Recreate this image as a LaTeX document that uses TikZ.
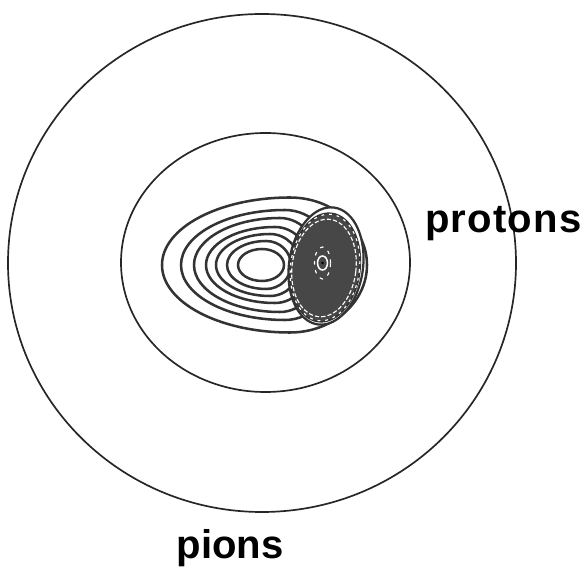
\documentclass[tikz,border=0pt]{standalone}
\usepackage{fontspec}
\newfontfamily\labelfont{Liberation Sans}
\usepackage{tikz}
\usetikzlibrary{positioning}

\begin{document}
\begin{tikzpicture}[
  x=0.05cm, y=0.05cm,
  shell/.style={draw=black!85, line width=2.4pt},
  contour/.style={draw=black!80, line width=3.6pt},
  pedge/.style={draw=black!80, line width=3.2pt, fill=white},
  pcore/.style={fill=black!72, draw=black!80, line width=2.4pt},
  wdash/.style={draw=white, line width=1.6pt, dash pattern=on 6pt off 3pt},
  tag/.style={font=\labelfont\bfseries\fontsize{57}{60}\selectfont, inner sep=0pt}
]
\useasboundingbox (0,0) rectangle (588,573);

% Outer shells
\draw[shell] (262,310) ellipse [x radius=254, y radius=249];
\draw[shell] (265.5,310.5) ellipse [x radius=144.5, y radius=129.5];

% Pion contours (left half, then right half)
\foreach \cx/\rl/\rr/\ry in {262/24/22/16, 266/39/25/24, 270/54/30/31, 275/69/35/38,
                             280/86/40/47, 285/104/50/55, 290/128/77/67.5}
  \draw[contour] (\cx,308+\ry)
    arc [start angle=90, end angle=270, x radius=\rl, y radius=\ry]
    arc [start angle=270, end angle=450, x radius=\rr, y radius=\ry];

% Proton blob
\draw[pedge, rotate around={-8:(326,307)}] (326,307) ellipse [x radius=37, y radius=59];
\draw[pcore, rotate around={-7:(325,305.5)}] (325,305.5) ellipse [x radius=35, y radius=54.5];
\draw[wdash, rotate around={-7:(324,305)}] (324,305) ellipse [x radius=32, y radius=49];
\draw[wdash, dash pattern=on 4pt off 7pt, rotate around={-7:(325,305.5)}]
  (325,305.5) ellipse [x radius=34.5, y radius=53.5];
\draw[wdash, dash pattern=on 5pt off 8pt] (322.5,310) ellipse [x radius=8, y radius=16];
\draw[draw=white, line width=2.2pt] (322.5,310) ellipse [x radius=5, y radius=7];
\fill[black] (322.5,310) circle [radius=1.3];

% Labels
\node[tag, anchor=base west] (protons) at (425,340) {\addfontfeature{LetterSpace=3}protons};
\node[tag, anchor=base] (pions) at (230,15) {pions};
\end{tikzpicture}
\end{document}
